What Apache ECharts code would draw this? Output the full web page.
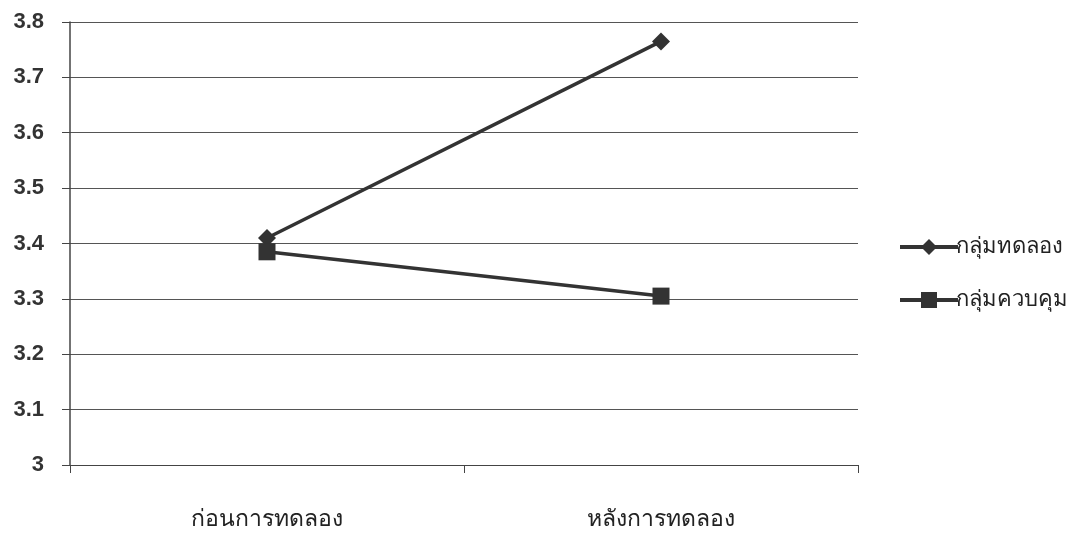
<!DOCTYPE html>
<html><head><meta charset="utf-8">
<script src="https://cdn.jsdelivr.net/npm/echarts@6/dist/echarts.min.js"></script>
<style>html,body{margin:0;padding:0;background:#fff}#c{width:1074px;height:534px}</style>
</head><body><div id="c"></div>
<script>
const categories = ['ก่อนการทดลอง', 'หลังการทดลอง'];
const experimental = [3.41, 3.765];
const control = [3.385, 3.305];
const seriesNames = ['กลุ่มทดลอง', 'กลุ่มควบคุม'];
const yTicks = [3, 3.1, 3.2, 3.3, 3.4, 3.5, 3.6, 3.7, 3.8];

const font = 'Arial, "Liberation Sans", "Noto Sans", sans-serif';
const chart = echarts.init(document.getElementById('c'));
chart.setOption({
  animation: false,
  backgroundColor: '#fff',
  grid: { left: 70, right: 216, top: 22, bottom: 69 },
  legend: {
    orient: 'vertical', left: 893, top: 231, itemGap: 31,
    itemWidth: 58, itemHeight: 20,
    lineStyle: { width: 4, color: '#333' },
    textStyle: { fontSize: 22, color: '#222', fontFamily: font, padding: [0,0,0,-7] },
    data: seriesNames
  },
  xAxis: {
    type: 'category', data: categories, boundaryGap: true,
    axisLine: { lineStyle: { color: '#444', width: 1 } },
    axisTick: { show: true, length: 8, lineStyle: { color: '#444' } },
    axisLabel: { fontSize: 23, color: '#222', fontFamily: font, margin: 43 }
  },
  yAxis: {
    type: 'value', min: yTicks[0], max: yTicks[yTicks.length - 1], interval: 0.1,
    axisLine: { show: true, lineStyle: { color: '#444', width: 1.5 } },
    axisTick: { show: true, length: 8, inside: false, lineStyle: { color: '#444' } },
    splitLine: { lineStyle: { color: '#555', width: 1 } },
    axisLabel: { fontSize: 22, fontWeight: 'bold', color: '#333', fontFamily: font, margin: 26,
      formatter: v => { const r = Math.round(v * 10) / 10; return yTicks.includes(r) ? String(r) : ''; } }
  },
  series: [
    { name: seriesNames[0], type: 'line', data: experimental, symbol: 'diamond', symbolSize: 18,
      lineStyle: { color: '#333', width: 3.5 }, itemStyle: { color: '#333' } },
    { name: seriesNames[1], type: 'line', data: control, symbol: 'rect', symbolSize: 17,
      lineStyle: { color: '#333', width: 3.5 }, itemStyle: { color: '#333' } }
  ]
});
</script></body></html>
